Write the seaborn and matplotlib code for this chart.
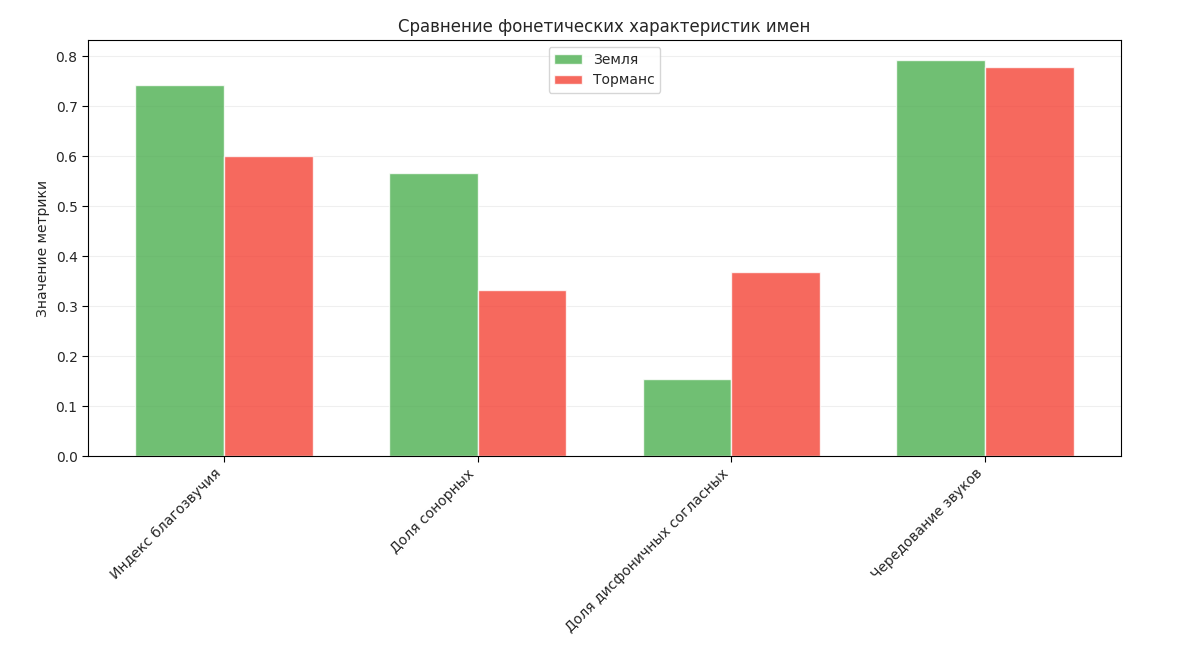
import matplotlib
matplotlib.use("Agg")
import matplotlib.pyplot as plt
import seaborn as sns
import pandas as pd

categories = ["Индекс благозвучия", "Доля сонорных", "Доля дисфоничных согласных", "Чередование звуков"]
earth = [0.742, 0.566, 0.154, 0.793]
tormans = [0.600, 0.332, 0.368, 0.778]
series = ["Земля", "Торманс"]

df = pd.DataFrame({
    "cat": categories * 2,
    "val": earth + tormans,
    "series": [series[0]] * 4 + [series[1]] * 4,
})

sns.set_style("white")
plt.rcParams['font.family'] = ['DejaVu Sans']
fig = plt.figure(figsize=(11.9, 6.57), dpi=100)
ax = fig.add_axes([88/1190, 1-456/657, (1121-88)/1190, (456-40)/657])
sns.barplot(data=df, x="cat", y="val", hue="series", width=0.7,
            palette=["#4CAF50", "#F44336"], alpha=0.8, ax=ax, saturation=1)
ax.set_xlim(-0.535, 3.535)
ax.set_title("Сравнение фонетических характеристик имен", fontsize=12)
ax.set_ylabel("Значение метрики")
ax.set_xlabel("")
ax.yaxis.grid(True, alpha=0.3)
ax.set_axisbelow(True)
for s in ax.spines.values():
    s.set_color("black"); s.set_linewidth(0.8)
ax.tick_params(axis="both", length=4, color="black", left=True, bottom=True)
plt.setp(ax.get_xticklabels(), rotation=45, ha="right")
ax.legend(loc="upper center", title=None)
fig.savefig("out.png", dpi=100)
